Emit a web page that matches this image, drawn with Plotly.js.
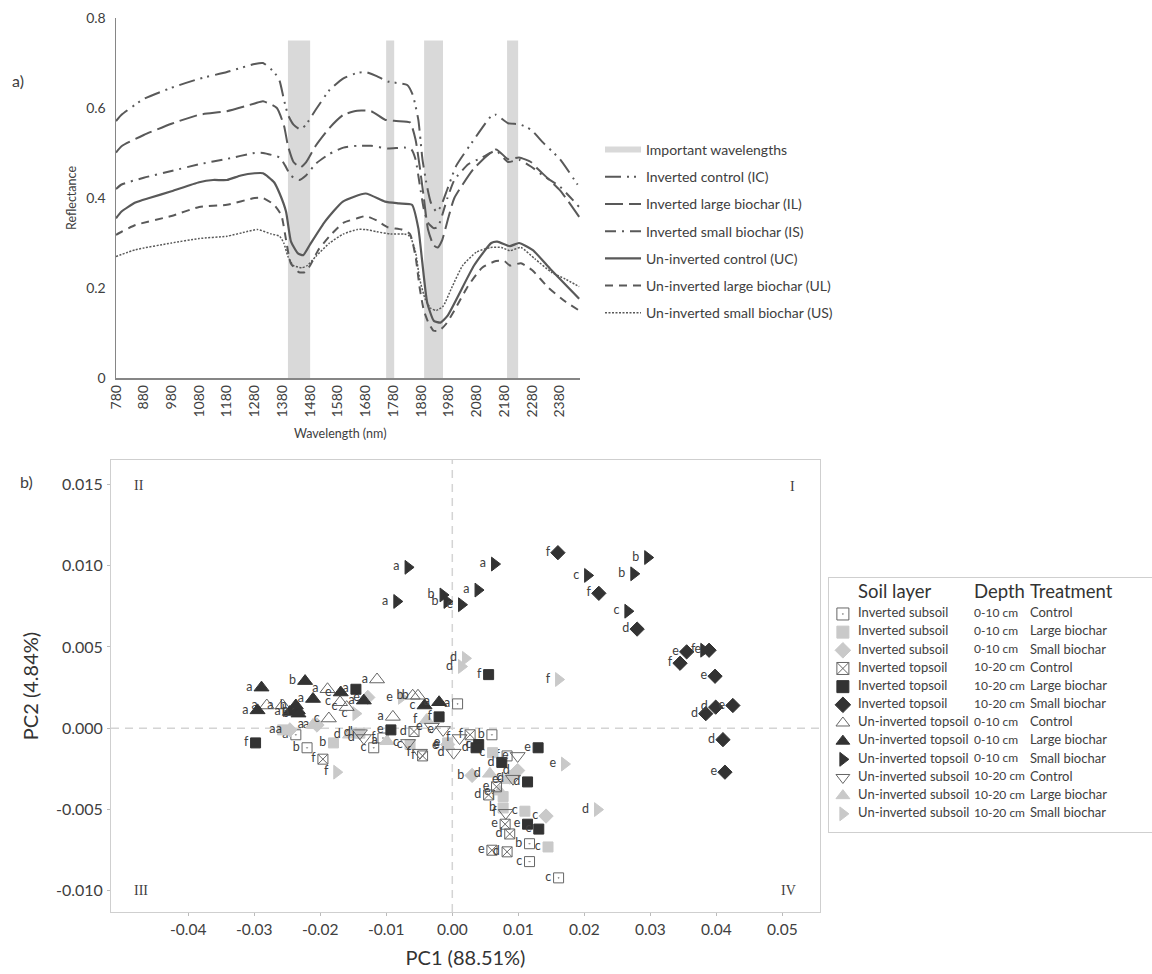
<!DOCTYPE html>
<html><head><meta charset="utf-8">
<script src="https://cdn.plot.ly/plotly-3.0.1.min.js"></script>
<style>html,body{margin:0;padding:0;background:#fff}#c{width:1152px;height:974px}</style></head>
<body><div id="c"></div>
<script>
// ---------- panel a data ----------
const bandStart=[1400,1754,1891,2190];
const bandEnd=[1480,1783,1959,2230];
const wlIC=[780,800,880,980,1080,1180,1280,1310,1350,1370,1385,1400,1420,1445,1465,1500,1550,1600,1650,1680,1720,1760,1800,1830,1850,1870,1885,1900,1915,1935,1950,1975,2007,2071,2133,2150,2194,2233,2276,2320,2381,2443,2450];
const valIC=[.571,.585,.62,.645,.665,.68,.698,.70,.68,.66,.62,.585,.563,.552,.563,.596,.64,.666,.678,.68,.671,.659,.655,.651,.629,.574,.486,.43,.39,.37,.38,.42,.472,.53,.582,.585,.566,.564,.552,.523,.486,.431,.425];
const wlIL=[780,800,880,980,1080,1180,1280,1310,1360,1386,1400,1420,1445,1465,1500,1550,1600,1650,1700,1750,1790,1840,1860,1875,1890,1905,1925,1940,1955,1980,2000,2071,2150,2194,2233,2276,2300,2381,2450];
const valIL=[.501,.515,.54,.565,.585,.593,.61,.615,.60,.56,.516,.48,.468,.479,.516,.556,.585,.594,.593,.574,.571,.568,.53,.47,.40,.33,.295,.29,.305,.36,.40,.466,.508,.486,.49,.48,.465,.417,.358];
const wlIS=[780,800,880,980,1080,1180,1280,1310,1370,1390,1410,1440,1465,1500,1550,1600,1650,1700,1760,1820,1845,1860,1875,1890,1905,1925,1940,1975,2000,2050,2100,2150,2194,2233,2276,2320,2381,2450];
const valIS=[.42,.43,.445,.46,.475,.487,.50,.50,.49,.472,.45,.44,.45,.476,.498,.512,.516,.516,.51,.512,.508,.486,.43,.375,.345,.333,.335,.40,.44,.475,.49,.505,.48,.485,.47,.45,.425,.38];
const wlUC=[780,800,850,900,980,1080,1130,1180,1230,1280,1310,1350,1370,1393,1411,1436,1455,1478,1534,1598,1680,1750,1800,1847,1870,1883,1902,1926,1950,1975,2071,2133,2155,2200,2233,2283,2345,2450];
const valUC=[.355,.37,.39,.40,.415,.435,.44,.44,.45,.455,.455,.435,.41,.37,.303,.277,.273,.295,.348,.392,.41,.392,.388,.385,.333,.265,.168,.127,.123,.138,.25,.30,.303,.293,.30,.284,.243,.176];
const wlUL=[780,800,850,980,1080,1180,1280,1310,1350,1376,1395,1410,1440,1460,1480,1510,1550,1600,1650,1680,1720,1760,1810,1840,1860,1875,1890,1905,1925,1945,1970,2000,2050,2100,2150,2180,2200,2240,2280,2340,2400,2450];
const valUL=[.318,.325,.34,.36,.38,.385,.40,.40,.385,.362,.30,.255,.235,.235,.25,.285,.315,.345,.355,.36,.35,.335,.33,.32,.27,.20,.15,.125,.105,.105,.12,.15,.205,.245,.26,.26,.25,.255,.24,.20,.17,.15];
const wlUS=[780,850,980,1080,1180,1250,1290,1340,1370,1385,1400,1420,1450,1470,1500,1550,1600,1650,1680,1720,1770,1820,1840,1860,1875,1895,1915,1935,1960,1990,2030,2080,2130,2170,2200,2240,2290,2350,2400,2450];
const valUS=[.27,.285,.30,.31,.315,.325,.33,.32,.315,.30,.27,.25,.245,.25,.27,.30,.32,.33,.33,.325,.32,.32,.315,.28,.22,.175,.155,.15,.16,.20,.25,.28,.29,.29,.283,.29,.265,.235,.22,.203];
const namesA=['Inverted control (IC)','Inverted large biochar (IL)','Inverted small biochar (IS)','Un-inverted control (UC)','Un-inverted large biochar (UL)','Un-inverted small biochar (US)'];

// ---------- panel b data ----------
const isCtlX=[.0008,.0060,-.0237,-.0220,-.0119,-.0105,.0083,.0117,.0117,.0161];
const isCtlY=[.0015,-.0004,-.0004,-.0012,-.0012,-.0006,-.0017,-.0071,-.0082,-.0092];
const isCtlL=['a','b','a','b','c','f','f','b','c','c'];
const isLgX=[-.0180,.0061,.0077,.0077,.0110,.0145,-.0064,-.0140,-.0257,-.0007];
const isLgY=[-.0009,-.0015,-.0042,-.0049,-.0051,-.0073,-.0010,-.0003,-.0001,-.0009];
const isLgL=['b','c','f','b','c','c','c','d','a','e'];
const isSmX=[-.0246,-.0205,-.0128,.0099,.0087,.0030,.0142,-.0007];
const isSmY=[-.0001,.0002,.0019,-.0026,-.0030,-.0029,-.0054,-.0010];
const isSmL=['a','a','e','d','c','b','c','e'];
const itCtlX=[-.0196,-.0058,-.0045,.0027,.0067,.0055,.0080,.0087,.0060,.0083];
const itCtlY=[-.0019,-.0002,-.0017,-.0004,-.0036,-.0041,-.0059,-.0065,-.0075,-.0076];
const itCtlL=['f','d','f','f','e','d','e','d','e','d'];
const itLgX=[-.0298,-.0146,-.0020,-.0093,.0055,.0040,.0036,.0130,.0075,.0114,.0114,.0131];
const itLgY=[-.0009,.0024,.0007,-.0001,.0033,-.0010,-.0012,-.0012,-.0021,-.0033,-.0059,-.0062];
const itLgL=['f','a','f','e','f','c','d','e','d','d','e','c'];
const itSmX=[.0160,.0222,.0280,.0355,.0345,.0389,.0398,.0384,.0399,.0425,.0410,.0413];
const itSmY=[.0108,.0083,.0061,.0047,.0040,.0048,.0032,.0009,.0013,.0014,-.0007,-.0027];
const itSmL=['f','f','d','e','f','e','e','d','d','e','d','e'];
const utCtlX=[-.0281,-.0257,-.0187,-.0189,-.0170,-.0160,-.0114,-.0060,-.0052,-.0090];
const utCtlY=[.0014,.0014,.0006,.0024,.0016,.0013,.0030,.0020,.0020,.0007];
const utCtlL=['a','a','c','a','c','c','a','b','b','a'];
const utLgX=[-.0289,-.0223,-.0211,-.0169,-.0295,-.0246,-.0234,-.0233,-.0134,-.0042,-.0020,-.0237];
const utLgY=[.0025,.0029,.0018,.0022,.0011,.0010,.0011,.0009,.0017,.0014,.0016,.0014];
const utLgL=['a','b','a','e','a','a','b','b','a','c','a','b'];
const utSmX=[-.0067,-.0084,.0064,.0039,-.0014,-.0008,.0014,.0205,.0275,.0296,.0266,.0381];
const utSmY=[.0099,.0078,.0101,.0085,.0082,.0078,.0076,.0094,.0095,.0105,.0072,.0048];
const utSmL=['a','a','a','a','b','b','e','c','b','b','c','f'];
const usCtlX=[-.0140,-.0134,-.0067,-.0049,-.0031,-.0014,.0002,.0011,.0099,.0092,.0081];
const usCtlY=[-.0003,-.0006,-.0009,-.0015,.0001,-.0001,-.0015,-.0006,-.0017,-.0031,-.0052];
const usCtlL=['d','d','c','f','e','e','d','f','e','d','f'];
const usLgX=[.0057,.0084,-.0099,-.0007,-.0039,-.0211,-.0155,.0072];
const usLgY=[-.0028,-.0032,-.0008,-.0011,.0005,.0002,-.0004,-.0039];
const usLgL=['d','e','a','e','f','a','d','e'];
const usSmX=[.0020,.0014,.0161,.0170,.0220,-.0175,-.0146,-.0077];
const usSmY=[.0043,.0038,.0030,-.0022,-.0050,-.0027,.0009,.0019];
const usSmL=['d','d','f','e','d','f','c','e'];
const soilLayer=['Inverted subsoil','Inverted subsoil','Inverted subsoil','Inverted topsoil','Inverted topsoil','Inverted topsoil','Un-inverted topsoil','Un-inverted topsoil','Un-inverted topsoil','Un-inverted subsoil','Un-inverted subsoil','Un-inverted subsoil'];
const depth=['0-10 cm','0-10 cm','0-10 cm','10-20 cm','10-20 cm','10-20 cm','0-10 cm','0-10 cm','0-10 cm','10-20 cm','10-20 cm','10-20 cm'];
const treatment=['Control','Large biochar','Small biochar','Control','Large biochar','Small biochar','Control','Large biochar','Small biochar','Control','Large biochar','Small biochar'];
const xTickVals=[-.04,-.03,-.02,-.01,0,.01,.02,.03,.04,.05];
const xTickText=['-0.04','-0.03','-0.02','-0.01','0.00','0.01','0.02','0.03','0.04','0.05'];
const yTickVals=[.015,.01,.005,0,-.005,-.01];
const yTickText=['0.015','0.010','0.005','0.000','-0.005','-0.010'];

// ---------- styles ----------
const W=1152,H=974;
const FONT='Lato, "Open Sans", sans-serif';
const INK='#404040', LINE='#595959', DARK='#333333', LIGHT='#c9c9c9', OPEN='#666666';
const dx=p=>p/W, dy=p=>1-p/H;
const data=[];

// bands
const bx=[],by=[];
bandStart.forEach((s,i)=>{bx.push(s,s,bandEnd[i],bandEnd[i],s,null);by.push(0,.75,.75,0,0,null);});
data.push({type:'scatter',x:bx,y:by,mode:'none',fill:'toself',fillcolor:'#d9d9d9',name:'Important wavelengths',legendgroup:'g0',hoverinfo:'skip'});
// curves
const curves=[[wlIC,valIC,'16px,6px,2px,5px,2px,6px',2],[wlIL,valIL,'18px,6px',2],[wlIS,valIS,'11px,6px,2px,6px',2],[wlUC,valUC,'solid',2.2],[wlUL,valUL,'8px,6px',2],[wlUS,valUS,'2px,1.5px',1.5]];
curves.forEach((c,i)=>data.push({type:'scatter',mode:'lines',x:c[0],y:c[1],name:namesA[i],legendgroup:'g'+(i+1),line:{color:LINE,dash:c[2],width:c[3],shape:'spline',smoothing:.5}}));

// scatter series
const series=[
 [isCtlX,isCtlY,isCtlL,'square-open-dot',OPEN,10],
 [isLgX,isLgY,isLgL,'square',LIGHT,10],
 [isSmX,isSmY,isSmL,'diamond',LIGHT,11],
 [usLgX,usLgY,usLgL,'triangle-up',LIGHT,13],
 [usSmX,usSmY,usSmL,'triangle-right',LIGHT,12],
 [itCtlX,itCtlY,itCtlL,'square-x-open',OPEN,10],
 [itLgX,itLgY,itLgL,'square',DARK,10],
 [itSmX,itSmY,itSmL,'diamond',DARK,11],
 [utCtlX,utCtlY,utCtlL,'triangle-up-open',OPEN,13],
 [utLgX,utLgY,utLgL,'triangle-up',DARK,13],
 [utSmX,utSmY,utSmL,'triangle-right',DARK,12],
 [usCtlX,usCtlY,usCtlL,'triangle-down-open',OPEN,13]
];
series.forEach(s=>data.push({type:'scatter',mode:'markers+text',x:s[0],y:s[1],text:s[2],textposition:'middle left',cliponaxis:false,
  textfont:{family:FONT,size:12.5,color:INK},xaxis:'x2',yaxis:'y2',showlegend:false,
  marker:{symbol:s[3],color:s[4],size:s[5],line:{color:s[4],width:1}}}));

// side key of panel b
const keySym=['square-open-dot','square','diamond','square-x-open','square','diamond','triangle-up-open','triangle-up','triangle-right','triangle-down-open','triangle-up','triangle-right'];
const keyCol=[OPEN,LIGHT,LIGHT,OPEN,DARK,DARK,OPEN,DARK,DARK,OPEN,LIGHT,LIGHT];
const rows=soilLayer.map((_,i)=>i);
data.push({type:'scatter',mode:'markers',x:rows.map(()=>0.043),y:rows,xaxis:'x3',yaxis:'y3',showlegend:false,hoverinfo:'skip',
  marker:{symbol:keySym,color:keyCol,size:12,line:{color:keyCol,width:1}}});
[[0.09,soilLayer,13],[0.449,depth,12],[0.622,treatment,13]].forEach(c=>data.push({type:'scatter',mode:'text',x:rows.map(()=>c[0]),y:rows,text:c[1],textposition:'middle right',
  textfont:{family:FONT,size:c[2],color:INK},xaxis:'x3',yaxis:'y3',showlegend:false,hoverinfo:'skip',cliponaxis:false}));
data.push({type:'scatter',mode:'text',x:[0.09,0.449,0.622],y:[-1.15,-1.15,-1.15],text:['Soil layer','Depth','Treatment'],textposition:'middle right',
  textfont:{family:FONT,size:18.5,color:'#333333'},xaxis:'x3',yaxis:'y3',showlegend:false,hoverinfo:'skip',cliponaxis:false});

const note=(t,x,y,size,fam)=>({text:t,xref:'paper',yref:'paper',x:dx(x),y:dy(y),xanchor:'center',yanchor:'middle',showarrow:false,font:{family:fam||FONT,size:size,color:INK}});
const layout={
 width:W,height:H,margin:{l:0,r:0,t:0,b:0},paper_bgcolor:'#fff',plot_bgcolor:'#fff',font:{family:FONT,color:INK},
 showlegend:true,
 legend:{x:dx(600),y:dy(134),xanchor:'left',yanchor:'top',font:{family:FONT,size:14,color:INK},itemwidth:36,tracegroupgap:6,bgcolor:'rgba(0,0,0,0)',traceorder:'grouped',itemclick:false,itemdoubleclick:false},
 xaxis:{domain:[dx(116),dx(580)],range:[780,2453],tick0:780,dtick:100,tickangle:-90,ticks:'',showgrid:false,zeroline:false,showline:true,linecolor:'#868686',linewidth:1.5,tickfont:{size:14,color:INK},anchor:'y'},
 yaxis:{domain:[dy(378),dy(18)],range:[0,.8],dtick:.2,ticks:'',showgrid:false,zeroline:false,showline:true,linecolor:'#868686',linewidth:1.5,tickfont:{size:14,color:INK},ticklabelstandoff:6,
   title:{text:'Reflectance',font:{size:12.5,color:INK},standoff:7},anchor:'x'},
 xaxis2:{domain:[dx(111),dx(820)],range:[-.0517,.0557],tickmode:'array',tickvals:xTickVals,ticktext:xTickText,ticks:'outside',ticklen:3,tickcolor:'#bbbbbb',showgrid:false,zeroline:false,showline:true,mirror:true,linecolor:'#cfcfcf',tickfont:{size:15.5,color:INK},
   title:{text:'PC1 (88.51%)',font:{size:20,color:'#333333'},standoff:14},anchor:'y2'},
 yaxis2:{domain:[dy(912),dy(460)],range:[-.0113,.0165],tickmode:'array',tickvals:yTickVals,ticktext:yTickText,ticks:'outside',ticklen:3,tickcolor:'#bbbbbb',showgrid:false,zeroline:false,showline:true,mirror:true,linecolor:'#cfcfcf',tickfont:{size:16,color:INK},ticklabelstandoff:1,
   title:{text:'PC2 (4.84%)',font:{size:20,color:'#333333'},standoff:11},anchor:'x2'},
 xaxis3:{domain:[dx(829),dx(1152)],range:[0,1],visible:true,showticklabels:false,ticks:'',showgrid:false,zeroline:false,showline:true,mirror:true,linecolor:'#cfcfcf',anchor:'y3',fixedrange:true},
 yaxis3:{domain:[dy(832),dy(578)],range:[12.0,-1.98],showticklabels:false,ticks:'',showgrid:false,zeroline:false,showline:true,mirror:true,linecolor:'#cfcfcf',anchor:'x3',fixedrange:true},
 shapes:[
  {type:'line',xref:'x2',yref:'y2',x0:-.0517,x1:.0557,y0:0,y1:0,line:{color:'#d4d4d4',width:1.5,dash:'8px,6px'},layer:'below'},
  {type:'line',xref:'x2',yref:'y2',x0:0,x1:0,y0:-.0113,y1:.0165,line:{color:'#d4d4d4',width:1.5,dash:'8px,6px'},layer:'below'}
 ],
 annotations:[note('a)',18,81,16),note('b)',26,481,16),note('Wavelength (nm)',340,433,12.5),
  note('II',139,485,14,'Liberation Serif'),note('I',792,486,14,'Liberation Serif'),note('III',141,890,14,'Liberation Serif'),note('IV',788,890,14,'Liberation Serif')]
};
Plotly.newPlot('c',data,layout,{displayModeBar:false,staticPlot:true});
</script></body></html>
